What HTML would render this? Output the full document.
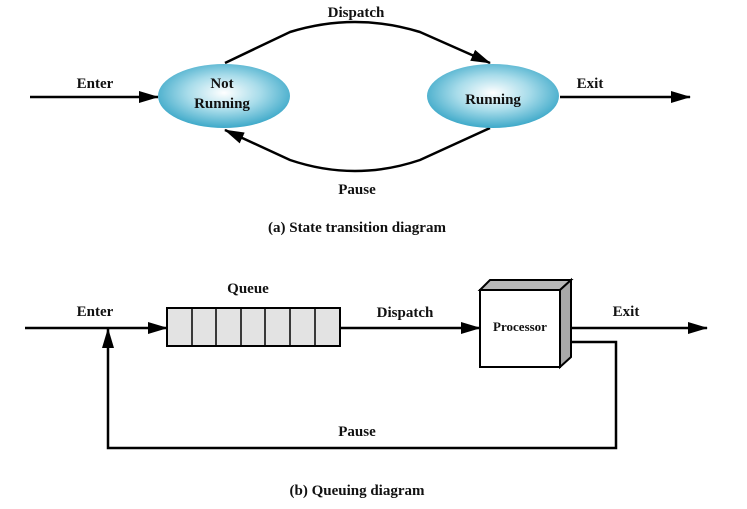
<!DOCTYPE html>
<html><head><meta charset="utf-8"><style>
body{margin:0;background:#fff;}
svg text{font-family:"Liberation Serif",serif;font-weight:bold;fill:#111;}
</style></head><body>
<svg width="747" height="504" viewBox="0 0 747 504" xmlns="http://www.w3.org/2000/svg">
<defs>
<radialGradient id="g" cx="50%" cy="45%" r="55%">
<stop offset="0" stop-color="#ffffff"/><stop offset="0.5" stop-color="#a8dcea"/><stop offset="1" stop-color="#3ea9c9"/>
</radialGradient>
<marker id="b" markerWidth="20" markerHeight="12" refX="19" refY="6" orient="auto" markerUnits="userSpaceOnUse" viewBox="0 0 20 12">
<path d="M0,0 L20,6 L0,12 Z" fill="#000"/></marker>
</defs>
<g stroke="#000" stroke-width="2.5" fill="none">
<line x1="30" y1="97" x2="158" y2="97" marker-end="url(#b)"/>
<line x1="560" y1="97" x2="690" y2="97" marker-end="url(#b)"/>
<path d="M225,63 L290,32 Q355,12 420,32 L490,63" marker-end="url(#b)"/>
<path d="M490,128 L420,160 Q355,182 290,160 L225,130" marker-end="url(#b)"/>
</g>
<ellipse cx="224" cy="96" rx="66" ry="32" fill="url(#g)"/>
<ellipse cx="493" cy="96" rx="66" ry="32" fill="url(#g)"/>
<text x="222" y="88" font-size="15" text-anchor="middle">Not</text>
<text x="222" y="108" font-size="15" text-anchor="middle">Running</text>
<text x="493" y="104" font-size="15" text-anchor="middle">Running</text>
<text x="95" y="88" font-size="15" text-anchor="middle">Enter</text>
<text x="590" y="88" font-size="15" text-anchor="middle">Exit</text>
<text x="356" y="17" font-size="15" text-anchor="middle">Dispatch</text>
<text x="357" y="194" font-size="15" text-anchor="middle">Pause</text>
<text x="357" y="232" font-size="15" text-anchor="middle">(a) State transition diagram</text>

<g stroke="#000" stroke-width="2.5" fill="none">
<line x1="25" y1="328" x2="167" y2="328" marker-end="url(#b)"/>
<line x1="340" y1="328" x2="480" y2="328" marker-end="url(#b)"/>
<line x1="565" y1="328" x2="707" y2="328" marker-end="url(#b)"/>
<polyline points="565,342 616,342 616,448 108,448 108,329" marker-end="url(#b)"/>
</g>
<rect x="167" y="308" width="173" height="38" fill="#e3e3e3" stroke="#000" stroke-width="2"/>
<g stroke="#000" stroke-width="1.5">
<line x1="192" y1="308" x2="192" y2="346"/><line x1="216" y1="308" x2="216" y2="346"/>
<line x1="241" y1="308" x2="241" y2="346"/><line x1="265" y1="308" x2="265" y2="346"/>
<line x1="290" y1="308" x2="290" y2="346"/><line x1="315" y1="308" x2="315" y2="346"/>
</g>
<polygon points="480,290 490,280 571,280 560,290" fill="#b8b8b8" stroke="#000" stroke-width="2"/>
<polygon points="560,290 571,280 571,357 560,367" fill="#a8a8a8" stroke="#000" stroke-width="2"/>
<rect x="480" y="290" width="80" height="77" fill="#fff" stroke="#000" stroke-width="2"/>
<text x="520" y="331" font-size="13" text-anchor="middle">Processor</text>
<text x="95" y="316" font-size="15" text-anchor="middle">Enter</text>
<text x="248" y="293" font-size="15" text-anchor="middle">Queue</text>
<text x="405" y="317" font-size="15" text-anchor="middle">Dispatch</text>
<text x="626" y="316" font-size="15" text-anchor="middle">Exit</text>
<text x="357" y="436" font-size="15" text-anchor="middle">Pause</text>
<text x="357" y="495" font-size="15" text-anchor="middle">(b) Queuing diagram</text>
</svg>
</body></html>
